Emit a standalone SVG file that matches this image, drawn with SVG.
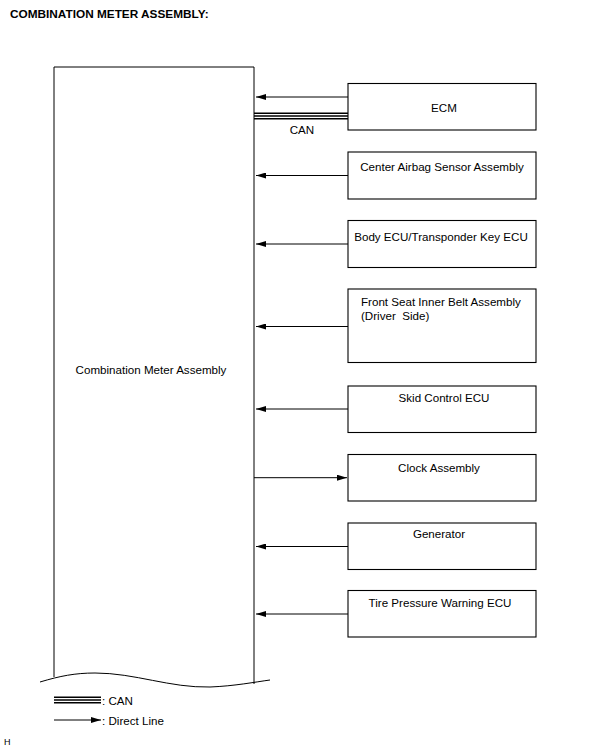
<svg xmlns="http://www.w3.org/2000/svg" width="605" height="749" viewBox="0 0 605 749">
<style>
text{font-family:"Liberation Sans",Arial,sans-serif;font-size:11.6px;fill:#000}
.t{text-anchor:middle}
.box{fill:#fff;stroke:#000;stroke-width:1.1}
.ln{stroke:#000;stroke-width:1;fill:none}
.can{stroke:#000;stroke-width:1.4;fill:none}
</style>
<defs>
<marker id="ah" viewBox="0 0 10 6" refX="10" refY="3" markerWidth="10" markerHeight="6" markerUnits="userSpaceOnUse" orient="auto">
<path d="M0,0 L10,3 L0,6 Z" fill="#000"/>
</marker>
</defs>
<rect width="605" height="749" fill="#fff"/>
<text x="10" y="18" style="font-weight:bold;font-size:11.8px">COMBINATION METER ASSEMBLY:</text>

<g id="meter">
<path class="ln" d="M54,677 L54,67 L254,67 L254,684"/>
<path class="ln" d="M40,682 C60,676 75,673 95,673 C135,673 170,688 210,687 C235,686 255,682 270,680"/>
<text class="t" x="151" y="374">Combination Meter Assembly</text>
</g>

<g id="ecm">
<rect class="box" x="348" y="83.5" width="188" height="46.5"/>
<text class="t" x="444" y="112">ECM</text>
</g>
<g id="airbag">
<rect class="box" x="348" y="152" width="188" height="47"/>
<text class="t" x="442" y="171">Center Airbag Sensor Assembly</text>
</g>
<g id="body">
<rect class="box" x="348" y="220.5" width="188" height="47"/>
<text class="t" x="441" y="241">Body ECU/Transponder Key ECU</text>
</g>
<g id="seatbelt">
<rect class="box" x="348" y="289" width="188" height="73.5"/>
<text x="361" y="306">Front Seat Inner Belt Assembly</text>
<text x="361" y="320">(Driver&#160; Side)</text>
</g>
<g id="skid">
<rect class="box" x="348" y="386" width="188" height="46.5"/>
<text class="t" x="444" y="402">Skid Control ECU</text>
</g>
<g id="clock">
<rect class="box" x="348" y="454.5" width="188" height="46.5"/>
<text class="t" x="439" y="472">Clock Assembly</text>
</g>
<g id="generator">
<rect class="box" x="348" y="523" width="188" height="46.5"/>
<text class="t" x="439" y="538">Generator</text>
</g>
<g id="tire">
<rect class="box" x="348" y="590.5" width="188" height="46.5"/>
<text class="t" x="440" y="607">Tire Pressure Warning ECU</text>
</g>

<g id="connectors">
<line class="ln" x1="348" y1="97" x2="256" y2="97" marker-end="url(#ah)"/>
<line class="can" x1="254" y1="113.3" x2="348" y2="113.3"/>
<line class="can" x1="254" y1="116" x2="348" y2="116"/>
<line class="can" x1="254" y1="118.7" x2="348" y2="118.7"/>
<text class="t" x="302" y="134">CAN</text>
<line class="ln" x1="348" y1="175.5" x2="256" y2="175.5" marker-end="url(#ah)"/>
<line class="ln" x1="348" y1="244" x2="256" y2="244" marker-end="url(#ah)"/>
<line class="ln" x1="348" y1="326.5" x2="256" y2="326.5" marker-end="url(#ah)"/>
<line class="ln" x1="348" y1="409" x2="256" y2="409" marker-end="url(#ah)"/>
<line class="ln" x1="254" y1="477.7" x2="347" y2="477.7" marker-end="url(#ah)"/>
<line class="ln" x1="348" y1="546.5" x2="256" y2="546.5" marker-end="url(#ah)"/>
<line class="ln" x1="348" y1="614" x2="256" y2="614" marker-end="url(#ah)"/>
</g>

<g id="legend">
<line class="can" x1="54" y1="697.3" x2="101" y2="697.3"/>
<line class="can" x1="54" y1="700" x2="101" y2="700"/>
<line class="can" x1="54" y1="702.7" x2="101" y2="702.7"/>
<text x="102" y="704.5">: CAN</text>
<line class="ln" x1="54" y1="720" x2="101" y2="720" marker-end="url(#ah)"/>
<text x="102" y="724.5">: Direct Line</text>
</g>
<text x="4" y="745" style="font-size:9px">H</text>
</svg>
